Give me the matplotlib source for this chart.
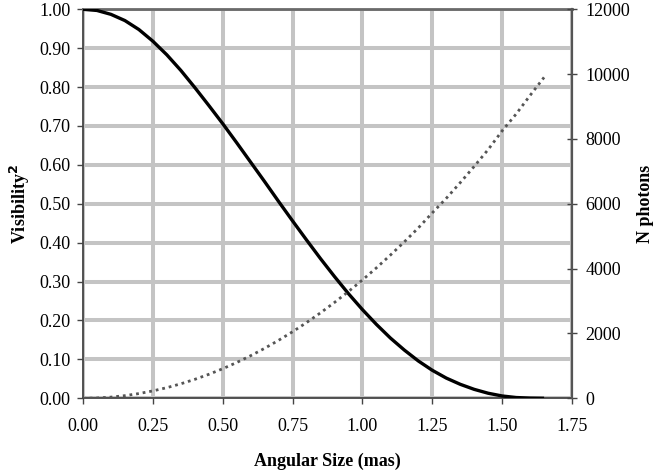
import numpy as np
import matplotlib.pyplot as plt

# angular size (mas)
size = [0.00, 0.05, 0.10, 0.15, 0.20, 0.25, 0.30, 0.35, 0.40, 0.45,
        0.50, 0.55, 0.60, 0.65, 0.70, 0.75, 0.80, 0.85, 0.90, 0.95,
        1.00, 1.05, 1.10, 1.15, 1.20, 1.25, 1.30, 1.35, 1.40, 1.45,
        1.50, 1.55, 1.60, 1.65]
# visibility squared (left axis)
vis2 = [1.000, 0.997, 0.987, 0.971, 0.948, 0.918, 0.883, 0.843, 0.799, 0.753,
        0.706, 0.657, 0.607, 0.557, 0.506, 0.456, 0.407, 0.359, 0.313, 0.269,
        0.228, 0.190, 0.155, 0.124, 0.096, 0.072, 0.052, 0.036, 0.023, 0.013,
        0.006, 0.002, 0.0005, 0.000]
# photons needed (right axis)
nphot = [0, 9, 36, 82, 146, 228, 328, 447, 584, 739,
         912, 1104, 1314, 1542, 1789, 2053, 2336, 2637, 2957, 3294,
         3650, 4024, 4417, 4827, 5256, 5720, 6169, 6652, 7154, 7674,
         8250, 8769, 9344, 9900]

xticks = [0.00, 0.25, 0.50, 0.75, 1.00, 1.25, 1.50, 1.75]
yticks = [0.0, 0.1, 0.2, 0.3, 0.4, 0.5, 0.6, 0.7, 0.8, 0.9, 1.0]
y2ticks = [0, 2000, 4000, 6000, 8000, 10000, 12000]

plt.rcParams['font.family'] = ['Liberation Serif', 'DejaVu Serif']
fs = 13

fig = plt.figure(figsize=(6.55, 4.74), dpi=100)
ax = fig.add_axes([0.1267, 0.1597, 0.7466, 0.8207])

ax.set_xlim(0, 1.75)
ax.set_ylim(0, 1.0)
ax.set_xticks(xticks)
ax.set_xticklabels([f'{t:.2f}' for t in xticks], fontsize=fs)
ax.set_yticks(yticks)
ax.set_yticklabels([f'{t:.2f}' for t in yticks], fontsize=fs)
ax.grid(True, color='#c4c4c4', lw=2.9, zorder=0)
ax.set_axisbelow(True)
ax.tick_params(axis='y', direction='out', length=4, width=1, color='#444444', pad=5)
ax.tick_params(axis='x', direction='out', length=4, width=1, color='#444444', pad=10)

for side in ['left', 'bottom']:
    ax.spines[side].set_color('#444444')
    ax.spines[side].set_linewidth(1.3)
ax.spines['top'].set_color('#6a6a6a')
ax.spines['top'].set_linewidth(2)
ax.spines['right'].set_visible(False)

ax.plot(size, vis2, color='black', lw=2.4, solid_capstyle='butt',
        solid_joinstyle='round', zorder=3)

ax2 = ax.twinx()
ax2.set_ylim(0, 12000)
ax2.set_yticks(y2ticks)
ax2.set_yticklabels([str(t) for t in y2ticks], fontsize=fs)
ax2.tick_params(axis='y', direction='inout', length=7, width=1, color='#444444', pad=6)
ax2.spines['right'].set_color('#555555')
ax2.spines['right'].set_linewidth(1.6)
for side in ['left', 'bottom', 'top']:
    ax2.spines[side].set_visible(False)
ax2.plot(size, nphot, color='#555555', lw=2, linestyle=(0, (1, 1.4)), zorder=3)

fig.text(0.031, 0.57, 'Visibility$^\\mathbf{2}$', rotation=90, ha='center', va='center',
         fontsize=fs, fontweight='bold')
fig.text(0.986, 0.57, 'N photons', rotation=90, ha='center', va='center',
         fontsize=fs, fontweight='bold')
fig.text(0.5, 0.027, 'Angular Size (mas)', ha='center', va='center',
         fontsize=fs, fontweight='bold')

fig.savefig('out.png', dpi=100)
